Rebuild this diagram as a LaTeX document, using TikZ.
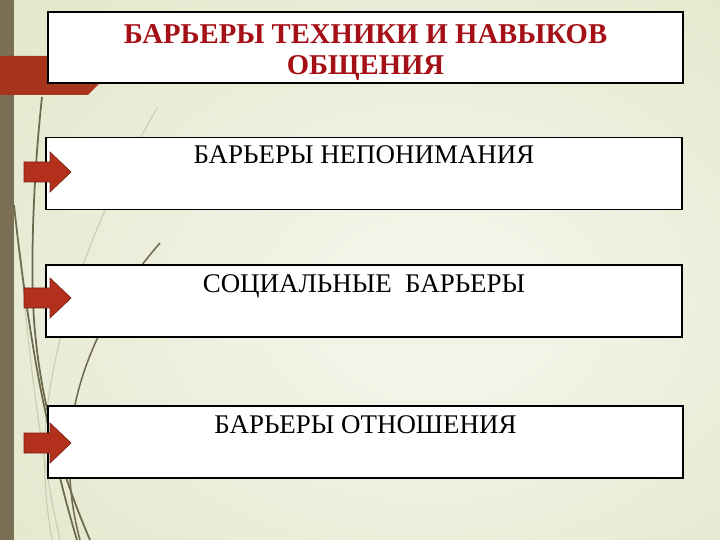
\documentclass[tikz,border=0pt]{standalone}
\usepackage{fontspec}
\setmainfont{Liberation Serif}
\definecolor{bgIn}{HTML}{F3F3E7}
\definecolor{bgOut}{HTML}{DCE3BF}
\definecolor{stripe}{HTML}{7A6F55}
\definecolor{banner}{HTML}{A8341C}
\definecolor{arrowRed}{HTML}{B3311C}
\definecolor{arrowEdge}{HTML}{7E2313}
\definecolor{titleRed}{HTML}{A50F16}
\definecolor{grassDark}{HTML}{6E6A4E}
\definecolor{grassLight}{HTML}{C9CCB2}
\pgfdeclareradialshading{slidebg}{\pgfpoint{6bp}{-4bp}}{color(0bp)=(bgIn); color(8bp)=(bgIn); color(52bp)=(bgOut); color(80bp)=(bgOut)}

\begin{document}
\begin{tikzpicture}[x=0.03cm, y=-0.03cm,
  box/.style={draw=black, fill=white, line width=1pt, minimum width=19.08cm, minimum height=2.14cm, inner sep=0pt},
  lbl/.style={anchor=base, inner sep=0pt, font=\fontsize{23}{27}\selectfont},
  ttl/.style={anchor=north, inner sep=0pt, align=center, text=titleRed, font=\bfseries\fontsize{24.5}{26.5}\selectfont},
  grass/.style={draw=grassDark, line width=1.5pt},
  faint/.style={draw=grassLight, line width=0.9pt},
  pointer/.style={fill=arrowRed, draw=arrowEdge, line width=0.6pt, line join=miter}]
\useasboundingbox (0,0) rectangle (720,540);
\shade[shading=slidebg] (0,0) rectangle (720,540);
\fill[stripe] (0,0) rectangle (14,540);
\draw[faint] (157,108) .. controls (110,190) and (60,300) .. (47,410) .. controls (42,460) and (45,500) .. (52,540);
\draw[faint] (20,250) .. controls (28,350) and (40,450) .. (60,540);
\draw[grass] (14,205) .. controls (22,280) and (34,360) .. (45,410) .. controls (55,460) and (65,500) .. (77,540);
\draw[grass] (42,97) .. controls (34,170) and (30,260) .. (34,320) .. controls (40,400) and (60,470) .. (90,540);
\draw[grass, line width=1.3pt] (160,243) .. controls (110,300) and (75,370) .. (70,440) .. controls (68,480) and (72,510) .. (80,540);
\fill[banner] (0,56) -- (127,56) -- (88,95) -- (0,95) -- cycle;
\node[box, minimum width=19.05cm, minimum height=2.13cm] (top) at (365.5,47.5) {};
\node[box] (b1) at (364,173.5) {};
\node[box, minimum height=2.16cm] (b2) at (364,301) {};
\node[box, minimum width=19.05cm, minimum height=2.16cm] (b3) at (365.5,442) {};
\node[ttl] (t0) at ([yshift=-0.39cm]top.north) {БАРЬЕРЫ ТЕХНИКИ И НАВЫКОВ\\ОБЩЕНИЯ};
\node[lbl] (t1) at ([yshift=-0.78cm]b1.north) {БАРЬЕРЫ НЕПОНИМАНИЯ};
\node[lbl] (t2) at ([yshift=-0.84cm]b2.north) {СОЦИАЛЬНЫЕ~ БАРЬЕРЫ};
\node[lbl] (t3) at ([yshift=-0.84cm]b3.north) {БАРЬЕРЫ ОТНОШЕНИЯ};
\foreach \y in {172,298,443}
  \draw[pointer] (24,\y-10) -- (50,\y-10) -- (50,\y-20) -- (71,\y) -- (50,\y+20) -- (50,\y+10) -- (24,\y+10) -- cycle;
\end{tikzpicture}
\end{document}
